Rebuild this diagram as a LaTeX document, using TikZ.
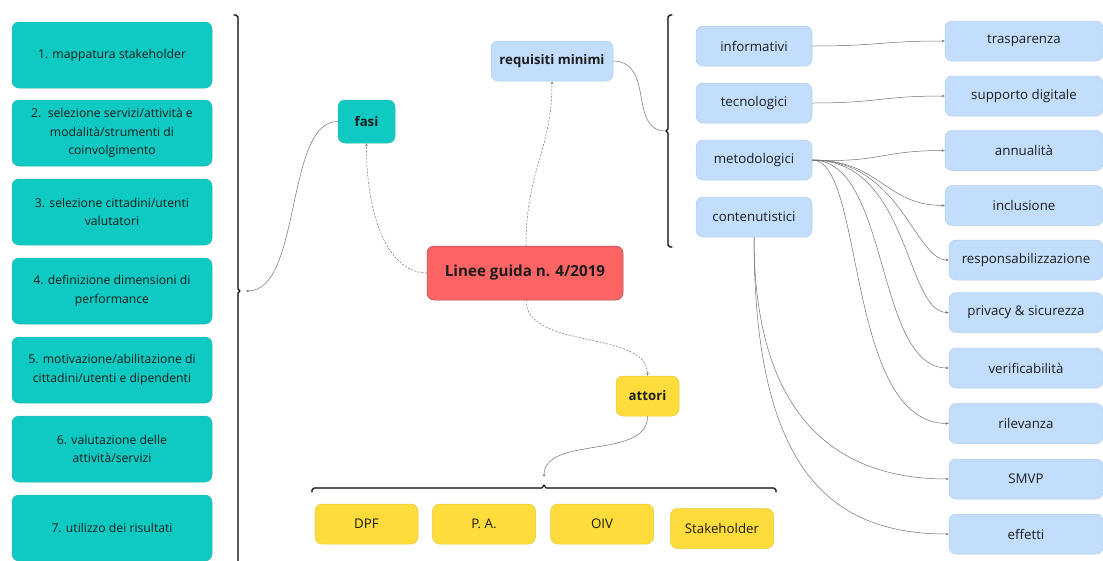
\documentclass[tikz,border=0pt]{standalone}
\usepackage{fontspec}
\setmainfont{Open Sans}
\usetikzlibrary{arrows.meta}
\definecolor{tealbox}{HTML}{0FCAC2}
\definecolor{tealline}{HTML}{2BB8B1}
\definecolor{bluebox}{HTML}{C2DEFC}
\definecolor{blueline}{HTML}{AFCDEC}
\definecolor{yelbox}{HTML}{FDDC3B}
\definecolor{yelline}{HTML}{E6C93A}
\definecolor{redbox}{HTML}{FF6464}
\definecolor{redline}{HTML}{A84A4A}
\definecolor{txt}{HTML}{1C1C1C}
\definecolor{wire}{HTML}{707070}
\tikzset{
  box/.style={rectangle, rounded corners=7pt, line width=0.5pt, align=center,
    text=txt, inner sep=2pt, font=\fontsize{13.3}{18.5}\selectfont},
  phase/.style={box, fill=tealbox, draw=tealline, minimum width=200pt, minimum height=66pt,
    font=\fontsize{12.2}{18.5}\selectfont},
  req/.style={box, fill=bluebox, draw=blueline, minimum width=116pt, minimum height=40pt},
  leaf/.style={box, fill=bluebox, draw=blueline, minimum height=40pt},
  actor/.style={box, fill=yelbox, draw=yelline, minimum width=103pt, minimum height=40pt},
  topic/.style={box, font=\fontsize{13.2}{15}\selectfont\bfseries},
  link/.style={draw=wire, line width=0.5pt, -{Stealth[length=3pt,width=2.5pt]}},
  dlink/.style={link, dashed, dash pattern=on 2pt off 1.5pt},
  brace/.style={draw=black, line width=1.1pt, line cap=round, line join=round}
}
\begin{document}
\begin{tikzpicture}[x=1pt, y=-1pt]
\useasboundingbox (0,0) rectangle (1103,560);

% phases column
\node[phase] (p1) at (112,55)  {1. mappatura stakeholder};
\node[phase] (p2) at (112,133) {2.\ \ selezione servizi/attività e\\modalità/strumenti di\\coinvolgimento};
\node[phase] (p3) at (112,212) {3. selezione cittadini/utenti\\valutatori};
\node[phase] (p4) at (112,291) {4. definizione dimensioni di\\performance};
\node[phase] (p5) at (112,370) {5. motivazione/abilitazione di\\cittadini/utenti e dipendenti};
\node[phase] (p6) at (112,449) {6. valutazione delle\\attività/servizi};
\node[phase] (p7) at (112,528) {7. utilizzo dei risultati};

% brackets
\draw[brace] (234,15) -- (236,15) -- (238,17) -- (238,289) -- (240,291) -- (238,293) -- (238,562);
\coordinate (lb) at (246,291);
\draw[brace] (672,15) -- (670,15) -- (668,17) -- (668,129) -- (666,131) -- (668,133) -- (668,245) -- (670,247) -- (672,247);
\coordinate (rb) at (666,131);
\draw[brace] (312,492) -- (312,490) -- (314,488) -- (542,488) -- (544,485) -- (546,488) -- (774,488) -- (776,490) -- (776,492);
\coordinate (bb) at (544,477);

% main topics
\node[topic, fill=redbox, draw=redline, minimum width=196pt, minimum height=54pt,
      font=\fontsize{15.2}{17}\selectfont\bfseries] (main) at (525,273) {Linee guida n. 4/2019};
\node[topic, fill=tealbox, draw=tealline, minimum width=57pt, minimum height=43pt] (fasi) at (366.5,121.5) {fasi};
\node[topic, fill=bluebox, draw=blueline, minimum width=122pt, minimum height=40pt] (req) at (552,61) {requisiti minimi};
\node[topic, fill=yelbox, draw=yelline, minimum width=63pt, minimum height=40pt] (att) at (647.5,396) {attori};

% requirement kinds
\node[req] (inf) at (754,46)  {informativi};
\node[req] (tec) at (754,103) {tecnologici};
\node[req] (met) at (754,160) {metodologici};
\node[req] (con) at (754,217) {contenutistici};

% requirement details
\node[leaf, minimum width=158pt] (l1) at (1024,41)    {trasparenza};
\node[leaf, minimum width=158pt] (l2) at (1024,96)    {supporto digitale};
\node[leaf, minimum width=158pt] (l3) at (1024,150.5) {annualità};
\node[leaf, minimum width=158pt] (l4) at (1024,205.5) {inclusione};
\node[leaf, minimum width=154pt] (l5) at (1026,260)   {responsabilizzazione};
\node[leaf, minimum width=154pt] (l6) at (1026,312.5) {privacy \& sicurezza};
\node[leaf, minimum width=154pt] (l7) at (1026,368)   {verificabilità};
\node[leaf, minimum width=154pt] (l8) at (1026,423.5) {rilevanza};
\node[leaf, minimum width=154pt] (l9) at (1026,479)   {SMVP};
\node[leaf, minimum width=154pt] (l10) at (1026,534)  {effetti};

% actors
\node[actor] (a1) at (366.5,524) {DPF};
\node[actor] (a2) at (484,524)   {P. A.};
\node[actor] (a3) at (602,524)   {OIV};
\node[actor] (a4) at (722,528.5) {Stakeholder};

% dashed links from the central topic
\draw[dlink] (main.west) .. controls (385,272) and (366,210) .. (fasi.south);
\draw[dlink] ([xshift=1pt]main.north) .. controls (526,170) and (552,150) .. (req.south);
\draw[dlink] ([xshift=1pt]main.south) .. controls (526,350) and (648,330) .. (att.north);

% solid links
\draw[link] (fasi.west) .. controls (285,121) and (302,291) .. (lb);
\draw[link, -] (req.east) .. controls (655,62) and (628,131) .. (rb);
\draw[link] (att.south) .. controls (648,460) and (544,435) .. (bb);

\draw[link] (inf.east) .. controls (880,46) and (880,41) .. (l1.west);
\draw[link] (tec.east) .. controls (880,103) and (880,96) .. (l2.west);
\draw[link] (met.east) .. controls (880,163) and (880,150.5) .. (l3.west);
\draw[link] (met.east) .. controls (880,160) and (885,205.5) .. (l4.west);
\draw[link] (met.east) .. controls (900,160) and (915,260) .. (l5.west);
\draw[link] (met.east) .. controls (910,160) and (905,312.5) .. (l6.west);
\draw[link] (met.east) .. controls (890,160) and (875,368) .. (l7.west);
\draw[link] (met.east) .. controls (865,160) and (845,423.5) .. (l8.west);
\draw[link] (con.south) .. controls (754,410) and (830,479) .. (l9.west);
\draw[link] (con.south) .. controls (754,470) and (830,534) .. (l10.west);
\end{tikzpicture}
\end{document}
